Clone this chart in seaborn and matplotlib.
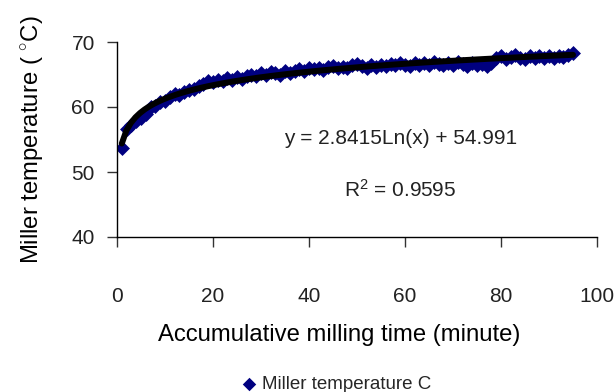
import numpy as np
import pandas as pd
import matplotlib
matplotlib.use("Agg")
import matplotlib.pyplot as plt
import seaborn as sns

# ---- data ----
minutes = list(range(1, 96))
temperature = [
    53.7, 56.6, 57.2, 57.8, 58.3, 59.0, 60.0, 60.2, 60.8, 61.0,
    61.6, 62.0, 61.9, 62.3, 62.6, 62.8, 63.3, 63.5, 64.0, 63.8,
    64.2, 64.0, 64.5, 64.2, 64.6, 64.3, 64.8, 65.0, 64.7, 65.2,
    65.0, 65.4, 65.2, 65.0, 65.6, 65.3, 65.6, 65.8, 65.5, 66.0,
    65.8, 66.0, 65.7, 66.1, 66.3, 66.0, 66.2, 66.0, 66.5, 66.6,
    66.3, 66.0, 66.4, 66.1, 66.5, 66.3, 66.6, 66.4, 66.8, 66.5,
    66.3, 66.7, 66.4, 66.8, 66.5, 66.9, 66.6, 66.4, 66.8, 66.5,
    66.9, 66.6, 66.3, 66.7, 66.4, 66.6, 66.3, 66.8, 67.5, 67.8,
    67.4, 67.7, 68.0, 67.6, 67.4, 67.8, 67.5, 67.9, 67.6, 67.9,
    67.6, 67.9, 67.7, 68.0, 68.3,
]
series_label = "Miller temperature C"
equation_text = "y = 2.8415Ln(x) + 54.991"
r2_text = "R$^{2}$ = 0.9595"
x_ticks = [0, 20, 40, 60, 80, 100]
y_ticks = [40, 50, 60, 70]

df = pd.DataFrame({"minute": minutes, "temp": temperature})

sns.set_theme(style="white")
plt.rcParams["font.family"] = ["Liberation Sans", "DejaVu Sans"]
plt.rcParams["mathtext.fontset"] = "custom"
plt.rcParams["mathtext.rm"] = "Liberation Sans"
plt.rcParams["mathtext.it"] = "Liberation Sans"

fig = plt.figure(figsize=(6.14, 3.92), dpi=100)
ax = fig.add_axes([117 / 614, 1 - 237 / 392, 480 / 614, 195 / 392])

sns.scatterplot(data=df, x="minute", y="temp", marker="D", s=58,
                color="#000080", linewidth=0, ax=ax, label=series_label,
                zorder=2)
sns.regplot(data=df, x="minute", y="temp", logx=True, scatter=False,
            ci=None, ax=ax, line_kws=dict(color="black", lw=4.3, zorder=3))

ax.set_xlim(0, 100)
ax.set_ylim(40, 70)
ax.set_xticks(x_ticks)
ax.set_yticks(y_ticks)
for s in ["top", "right"]:
    ax.spines[s].set_visible(False)
for s in ["left", "bottom"]:
    ax.spines[s].set_color("black")
    ax.spines[s].set_linewidth(1.0)

ax.tick_params(axis="x", direction="out", length=7, width=1, color="#333333",
               pad=29, labelsize=15, labelcolor="#222222", bottom=True)
ax.tick_params(axis="y", direction="out", length=7, width=1, color="#333333",
               pad=9, labelsize=15, labelcolor="#222222", left=True)

ax.set_xlabel("Accumulative milling time (minute)", fontsize=17.2, color="black")
ax.set_ylabel("Miller temperature ( $^{\\circ}$C)", fontsize=17.2, color="black")
ax.xaxis.set_label_coords(0.4625, -0.445)
ax.yaxis.set_label_coords(-0.15, 0.5)

ax.text(59, 55.2, equation_text, ha="center", va="center", fontsize=15,
        color="#222222")
ax.text(59, 47.2, r2_text, ha="center", va="center", fontsize=15,
        color="#222222")

h, l = ax.get_legend_handles_labels()
ax.get_legend().remove()
fig.legend(h[:1], l[:1], loc="center", bbox_to_anchor=(335 / 614, 1 - 384 / 392),
           frameon=False, fontsize=13.5, handletextpad=0.2, markerscale=0.9,
           handlelength=1.0, borderaxespad=0)

fig.savefig("out.png", dpi=100)
